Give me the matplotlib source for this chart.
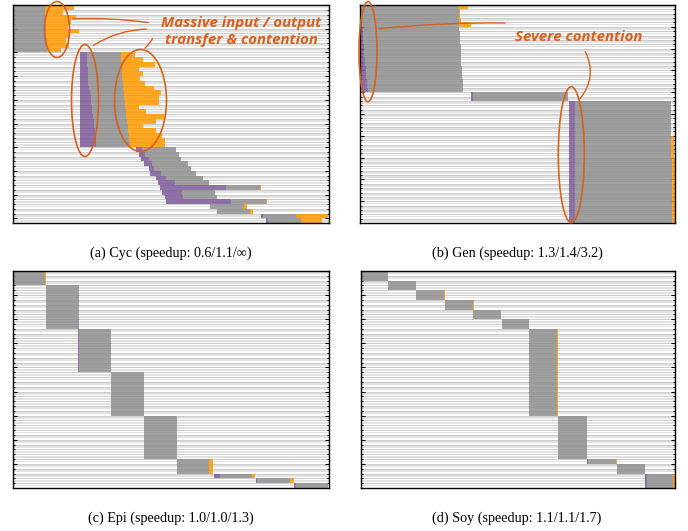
import numpy as np
import matplotlib.pyplot as plt
from matplotlib.patches import Ellipse

# colours of the three task phases
PURPLE = '#7e5a9b'   # input transfer
GRAY = '#8f8f8f'     # compute
ORANGE = '#ff9900'   # output transfer
NOTE = '#d9601a'

# task timelines, one entry per row, time in % of the whole run
# (a) Cyc
a_start = [0.0, 0.0, 0.0, 0.0, 0.0, 0.0, 0.0, 0.0, 0.0, 0.0,
           21.1, 21.1, 21.1, 21.1, 21.1, 21.1, 21.1, 21.1, 21.1, 21.1,
           21.1, 21.1, 21.1, 21.1, 21.1, 21.1, 21.1, 21.1, 21.1, 21.1,
           38.8, 39.9, 40.6, 41.5, 43.0, 43.5, 45.2, 45.9, 46.4, 47.3,
           48.0, 48.5, 62.5, 64.6, 78.4, 80.0]
a_in_end = [0.0, 0.0, 0.0, 0.0, 0.0, 0.0, 0.0, 0.0, 0.0, 0.0,
            23.4, 23.4, 23.5, 23.6, 23.6, 23.8, 23.9, 24.1, 24.3, 24.6,
            24.8, 25.0, 25.1, 25.3, 25.5, 25.7, 25.9, 26.1, 26.3, 26.4,
            40.9, 41.7, 43.0, 44.1, 44.8, 47.0, 48.5, 51.2, 67.3, 53.6,
            53.8, 69.1, 62.5, 64.6, 79.1, 80.7]
a_comp_end = [10.2, 10.0, 10.3, 10.1, 10.4, 10.6, 10.3, 10.8, 10.5, 10.9,
              34.3, 34.3, 34.4, 34.5, 34.5, 34.6, 34.7, 34.9, 35.0, 35.2,
              35.4, 35.5, 35.7, 35.9, 36.1, 36.3, 36.5, 36.6, 36.8, 36.9,
              51.7, 52.5, 53.3, 55.4, 56.4, 58.0, 60.1, 62.2, 78.1, 64.1,
              64.5, 80.0, 73.3, 75.1, 89.7, 91.3]
a_out_end = [19.2, 15.8, 20.1, 18.5, 17.4, 20.9, 17.9, 16.9, 17.7, 15.3,
             38.5, 41.1, 45.1, 39.9, 41.1, 40.1, 41.7, 44.5, 46.9, 46.2,
             46.2, 39.9, 42.2, 47.7, 45.4, 41.1, 45.4, 47.3, 48.0, 48.2,
             51.7, 52.5, 53.3, 55.4, 56.4, 58.0, 60.1, 62.2, 78.5, 64.1,
             64.5, 80.4, 74.1, 75.9, 99.7, 97.9]

# (b) Gen
b_start = [0.0, 0.0, 0.0, 0.0, 0.0, 0.0, 0.0, 0.0, 0.0, 0.0,
           0.0, 0.0, 0.0, 0.0, 0.0, 0.0, 0.0, 0.0, 0.0, 0.0,
           35.2, 35.2,
           66.3, 66.3, 66.3, 66.3, 66.3, 66.3, 66.3, 66.3, 66.3, 66.3,
           66.3, 66.3, 66.3, 66.3, 66.3, 66.3, 66.3, 66.3, 66.3, 66.3,
           66.3, 66.3, 66.3, 66.3, 66.3, 66.3, 66.3, 66.3]
b_in_end = [0.3, 0.4, 0.5, 0.6, 0.7, 0.8, 0.9, 1.0, 1.1, 1.2,
            1.3, 1.4, 1.5, 1.6, 1.8, 1.9, 2.0, 2.1, 2.3, 2.4,
            35.8, 35.8,
            68.3, 68.3, 68.3, 68.3, 68.3, 68.3, 68.3, 68.3, 68.3, 68.3,
            68.3, 68.3, 68.3, 68.3, 68.3, 68.3, 68.3, 68.3, 68.3, 68.3,
            68.3, 68.3, 68.3, 68.3, 68.3, 68.3, 68.3, 68.3]
b_comp_end = [31.2, 31.3, 31.3, 31.4, 31.5, 31.5, 31.6, 31.7, 31.8, 31.9,
              32.0, 32.0, 32.1, 32.2, 32.3, 32.4, 32.5, 32.6, 32.7, 32.8,
              66.1, 66.1,
              98.7, 98.7, 98.7, 98.7, 98.7, 98.7, 98.8, 98.8, 98.8, 98.8,
              98.8, 98.8, 98.8, 98.9, 98.9, 98.9, 98.9, 98.9, 98.9, 98.9,
              99.0, 99.0, 99.0, 99.0, 99.0, 99.0, 99.0, 99.0]
b_out_end = [34.4, 31.8, 31.7, 31.9, 35.2, 31.5, 31.6, 31.7, 31.8, 31.9,
             32.0, 32.0, 32.1, 32.2, 32.3, 32.4, 32.5, 32.6, 32.7, 32.8,
             66.1, 66.1,
             98.7, 98.7, 98.7, 98.7, 98.7, 98.7, 98.8, 98.8, 99.6, 99.6,
             99.7, 99.7, 99.7, 99.8, 99.8, 99.8, 99.8, 99.8, 99.9, 99.9,
             99.9, 99.9, 100.0, 100.0, 100.0, 100.0, 100.0, 100.0]

# (c) Epi, tasks grouped in blocks of identical rows
c_rows = [3, 9, 9, 9, 9, 3, 1, 1, 1]
c_start = [0.0, 10.3, 20.7, 31.1, 41.5, 51.9, 63.5, 76.8, 89.1]
c_in_end = [0.0, 10.3, 20.9, 31.1, 41.5, 51.9, 65.4, 77.3, 89.7]
c_comp_end = [10.2, 20.8, 31.1, 41.5, 51.9, 62.0, 75.6, 87.8, 99.7]
c_out_end = [10.5, 20.8, 31.1, 41.5, 51.9, 63.2, 76.7, 89.1, 99.7]

# (d) Soy
d_rows = [2, 2, 2, 2, 2, 2, 18, 9, 1, 2, 3]
d_start = [0.0, 8.5, 17.5, 26.8, 35.8, 44.8, 53.5, 62.8, 72.1, 81.6, 90.6]
d_in_end = [0.0, 8.5, 17.5, 26.8, 35.8, 44.8, 53.7, 62.8, 72.5, 81.6, 91.2]
d_comp_end = [8.5, 17.5, 26.5, 35.8, 44.6, 53.6, 62.6, 71.9, 81.4, 90.4, 99.4]
d_out_end = [8.5, 17.5, 26.8, 36.0, 44.6, 53.6, 62.8, 72.1, 81.7, 90.4, 100.0]

captions = ["(a) Cyc (speedup: 0.6/1.1/\u221e)",
            "(b) Gen (speedup: 1.3/1.4/3.2)",
            "(c) Epi (speedup: 1.0/1.0/1.3)",
            "(d) Soy (speedup: 1.1/1.1/1.7)"]


def draw(ax, start, in_end, comp_end, out_end):
    start, in_end = np.array(start), np.array(in_end)
    comp_end, out_end = np.array(comp_end), np.array(out_end)
    n = len(start)
    rows = np.arange(n)
    # light stripes behind every task row
    ax.barh(rows, 100, left=0, height=0.38, color='#e2e2e2', lw=0, zorder=0)
    for y in rows[:-1]:
        ax.axhline(y + 0.5, color='#c2c2c2', lw=0.6, zorder=0.5)
    kw = dict(height=1.0, lw=0, alpha=0.85, zorder=2)
    ax.barh(rows, in_end - start, left=start, color=PURPLE, **kw)
    ax.barh(rows, comp_end - in_end, left=in_end, color=GRAY, **kw)
    ax.barh(rows, out_end - comp_end, left=comp_end, color=ORANGE, **kw)
    ax.set_xlim(0, 100)
    ax.set_ylim(n - 0.5, -0.5)
    ax.set_xticks([])
    ax.set_yticks(np.arange(0, n, 5) - 0.5)
    ax.set_yticks(rows - 0.5, minor=True)
    ax.tick_params(axis='y', which='both', direction='in', left=True,
                   right=True, labelleft=False, width=0.8)
    ax.tick_params(axis='y', which='major', length=3)
    ax.tick_params(axis='y', which='minor', length=1.5)
    for s in ax.spines.values():
        s.set_linewidth(1.0)


fig = plt.figure(figsize=(6.88, 5.31), dpi=100)
ax_a = fig.add_axes([0.0189, 0.580, 0.459, 0.4105])
ax_b = fig.add_axes([0.5233, 0.580, 0.458, 0.4105])
ax_c = fig.add_axes([0.0189, 0.081, 0.459, 0.4087])
ax_d = fig.add_axes([0.5247, 0.081, 0.456, 0.4087])

draw(ax_a, a_start, a_in_end, a_comp_end, a_out_end)
draw(ax_b, b_start, b_in_end, b_comp_end, b_out_end)
draw(ax_c, np.repeat(c_start, c_rows), np.repeat(c_in_end, c_rows),
     np.repeat(c_comp_end, c_rows), np.repeat(c_out_end, c_rows))
draw(ax_d, np.repeat(d_start, d_rows), np.repeat(d_in_end, d_rows),
     np.repeat(d_comp_end, d_rows), np.repeat(d_out_end, d_rows))

serif = ['Liberation Serif', 'DejaVu Serif']
fig.text(0.2485, 0.5235, captions[0], ha='center', va='center', fontsize=10.2, family=serif)
fig.text(0.7515, 0.5235, captions[1], ha='center', va='center', fontsize=10.2, family=serif)
fig.text(0.2485, 0.0235, captions[2], ha='center', va='center', fontsize=10.2, family=serif)
fig.text(0.7515, 0.0235, captions[3], ha='center', va='center', fontsize=10.2, family=serif)

# annotation layer in figure pixels
ov = fig.add_axes([0, 0, 1, 1], zorder=10)
ov.set_xlim(0, 688)
ov.set_ylim(531, 0)
ov.axis('off')
ov.patch.set_alpha(0)

for cx, cy, w, h in [(57, 29.5, 25, 56), (85, 100.5, 27, 112), (140.5, 100.5, 52, 102),
                     (368, 51.7, 18, 100), (571.3, 154.7, 26, 136)]:
    ov.add_patch(Ellipse((cx, cy), w, h, fill=False, ec=NOTE, lw=1.2))

lines = [((70, 19), (151, 23), -0.05), ((91, 47), (149, 29), -0.15),
         ((143, 50), (154, 36), 0.1), ((376, 29), (508, 23), -0.03),
         ((578, 101), (584, 49), 0.35)]
for p0, p1, rad in lines:
    ov.annotate('', xy=p1, xytext=p0,
                arrowprops=dict(arrowstyle='-', color=NOTE, lw=1.0,
                                connectionstyle=f'arc3,rad={rad}'))

note_font = dict(color=NOTE, fontweight='bold', fontstyle='italic',
                 family='Open Sans', fontsize=10.8, ha='center', va='center')
ov.text(241, 31.5, "Massive input / output\ntransfer & contention",
        linespacing=1.3, **note_font)
ov.text(579, 37, "Severe contention", **note_font)

fig.savefig('out.png', dpi=100)
